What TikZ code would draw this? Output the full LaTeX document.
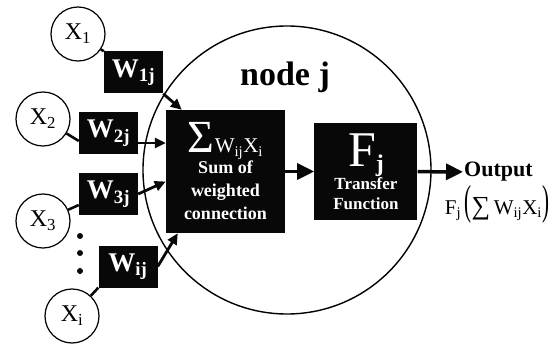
\documentclass[tikz,border=0pt]{standalone}
\usepackage{fontspec}
\setmainfont{Liberation Serif}
\usepackage{graphicx}
\usepackage{tikz}
\usetikzlibrary{arrows.meta,positioning,calc}
\definecolor{InkBlack}{RGB}{8,8,8}

\begin{document}
\begin{tikzpicture}[
  x=1pt, y=-1pt,
  inp/.style={draw, circle, line width=1.2pt, minimum size=54pt, inner sep=0pt, font=\fontsize{24}{24}\selectfont},
  wbox/.style={fill=InkBlack, text=white, minimum width=59pt, minimum height=42pt, inner sep=0pt, font=\bfseries\fontsize{27}{27}\selectfont},
  blk/.style={fill=InkBlack, text=white, align=center, inner sep=0pt},
  link/.style={line width=2.6pt, InkBlack},
  arr/.style={-{Triangle[length=11pt,width=10pt]}, line width=2.8pt, InkBlack},
  bigarr/.style={-{Triangle[length=17pt,width=16pt]}, line width=3.5pt, InkBlack}
]
  \useasboundingbox (0,0) rectangle (558,345);

  % neuron body
  \node[draw, circle, line width=1.4pt, minimum size=288pt, inner sep=0pt] (body) at (287,170) {};
  \node[font=\bfseries\fontsize{34}{34}\selectfont, anchor=base, inner sep=0pt] (title) at (285,86) {node j};

  \node[blk, minimum width=119pt, minimum height=123pt, font=\bfseries\fontsize{18}{23}\selectfont] (sum) at (225.5,171.5)
    {{\mdseries\fontsize{46}{46}\selectfont Σ}{\mdseries\fontsize{21}{21}\selectfont W\textsubscript{ij}X\textsubscript{i}}\\[-2pt]Sum of\\weighted\\connection};
  \node[blk, minimum width=103pt, minimum height=97pt, right=29pt of sum, font=\bfseries\fontsize{17}{20}\selectfont] (trans)
    {{\mdseries\fontsize{50}{44}\selectfont F}{\bfseries\fontsize{24}{24}\selectfont\raisebox{-5pt}{j}}\\Transfer\\Function};

  % inputs
  \node[inp] (x1) at (78,34) {X\textsubscript{1}};
  \node[inp] (x2) at (43,119) {X\textsubscript{2}};
  \node[inp] (x3) at (43,221) {X\textsubscript{3}};
  \node[inp] (xi) at (72,316) {X\textsubscript{i}};
  \foreach \y in {236,253,271}
    \fill[InkBlack] (80,\y) circle (3pt);

  % weights
  \node[wbox] (w1) at (133.5,72.5) {W\textsubscript{1j}};
  \node[wbox] (w2) at (108.5,133) {W\textsubscript{2j}};
  \node[wbox] (w3) at (108.5,194) {W\textsubscript{3j}};
  \node[wbox] (wi) at (128,266.5) {W\textsubscript{ij}};

  \draw[link] (x1) -- (w1.north west);
  \draw[link] (x2) -- ([yshift=-8pt]w2.west);
  \draw[link] (x3) -- ([yshift=-11pt]w3.west);
  \draw[link] (xi) -- (wi.south west);

  \draw[arr] (w1.south east) -- ([xshift=16pt]sum.north west);
  \draw[arr] ([yshift=-10pt]w2.east) -- ([yshift=-10pt]w2.east -| sum.west);
  \draw[arr] (w3.east) -- ([yshift=-10pt]sum.west);
  \draw[arr] (wi.east) -- ([xshift=12pt]sum.south west);

  % output
  \node[font=\bfseries\fontsize{22}{22}\selectfont, anchor=west, inner sep=1pt] (out) at (463,172) {Output};
  \node[font=\fontsize{21}{21}\selectfont, inner sep=0pt] (fx) at (497,204)
    {F\textsubscript{j}\,\scalebox{1}[2]{(}{\fontsize{26}{26}\selectfont ∑}\,W\textsubscript{ij}X\textsubscript{i}\scalebox{1}[2]{)}};

  \draw[bigarr] (sum) -- (trans);
  \draw[bigarr] (trans) -- (out);
\end{tikzpicture}
\end{document}
